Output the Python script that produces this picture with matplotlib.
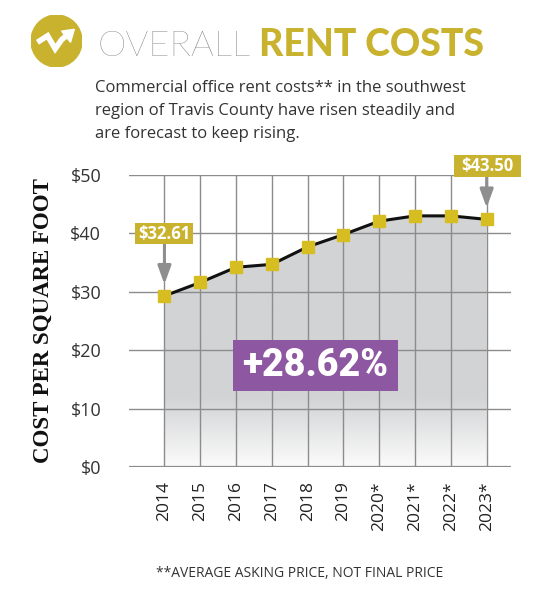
import numpy as np
import matplotlib.pyplot as plt
from matplotlib.patches import Circle, Rectangle, Polygon

years = ['2014', '2015', '2016', '2017', '2018', '2019', '2020*', '2021*', '2022*', '2023*']
cost = [29.3, 31.6, 34.2, 34.7, 37.7, 39.8, 42.1, 43.0, 43.0, 42.4]
yticks = [0, 10, 20, 30, 40, 50]
first_label = '$32.61'
last_label = '$43.50'
change_label = '+28.62%'

gold = '#c9b22e'
marker_gold = '#d6bd22'
purple = '#8d57a1'

W, H = 547, 600
fig = plt.figure(figsize=(W / 100, H / 100), dpi=100)

def fx(px):
    return px / W

def fy(py):
    return 1 - py / H

# main plot area, from pixel positions of the reference
ax = fig.add_axes([fx(129), fy(467), fx(511) - fx(129), fy(175) - fy(467)])
x = np.arange(len(years))
ax.set_xlim(-0.99, 9.68)
ax.set_ylim(0, 50)

# gradient fill under the line
grad = np.ones((256, 1))
yy = np.linspace(0, 50, 256)
grad[:, 0] = np.clip(yy / 12.0, 0, 1)
cmap = plt.matplotlib.colors.LinearSegmentedColormap.from_list('g', ['#fbfbfb', '#d2d3d5'])
img = ax.imshow(grad, extent=[x[0], x[-1], 0, 50], origin='lower', aspect='auto',
                cmap=cmap, vmin=0, vmax=1, zorder=1)
verts = [(x[0], 0)] + list(zip(x, cost)) + [(x[-1], 0)]
clip = Polygon(verts, closed=True, transform=ax.transData, facecolor='none', edgecolor='none')
ax.add_patch(clip)
img.set_clip_path(clip)

# grid
for v in yticks:
    ax.axhline(v, color='#8c8c8c', lw=1.0 if v else 1.6, zorder=2)
for xi in x:
    ax.plot([xi, xi], [0, 50], color='#8c8c8c', lw=1.0, zorder=2)

ax.plot(x, cost, color='#111111', lw=2.2, zorder=3)
ax.plot(x, cost, 's', color=marker_gold, ms=8.5, zorder=4)

for s in ax.spines.values():
    s.set_visible(False)
ax.set_yticks(yticks)
ax.set_yticklabels(['$%d' % v for v in yticks], fontsize=13, color='#333333', family='Open Sans')
ax.set_xticks(x)
ax.set_xticklabels(years, rotation=90, fontsize=12.5, color='#222222', family='Open Sans')
ax.tick_params(length=0)
ax.tick_params(axis='y', pad=20)
ax.tick_params(axis='x', pad=10)
ax.set_ylabel('COST PER SQUARE FOOT', fontsize=16.5, fontweight='bold', family='Liberation Serif',
              color='#111111', labelpad=12)

# callouts
def callout(xi, yi, label, bx0, by0, bx1, by1):
    ax.add_patch(Rectangle((fx(bx0), fy(by1)), fx(bx1) - fx(bx0), fy(by0) - fy(by1),
                           transform=fig.transFigure, facecolor=gold, edgecolor='none',
                           zorder=6, clip_on=False))
    fig.text(fx((bx0 + bx1) / 2), fy((by0 + by1) / 2), label, ha='center', va='center',
             fontsize=12, fontweight='bold', color='white', family='Open Sans', zorder=7)
    ax.annotate('', xy=(xi, yi + 2.0), xycoords='data',
                xytext=(xi, fy(by1)), textcoords=('data', 'figure fraction'),
                arrowprops=dict(arrowstyle='-|>,head_width=0.4,head_length=1.1',
                                color='#8e8e8e', lw=2.2, shrinkA=0, shrinkB=0), zorder=5,
                annotation_clip=False)

callout(x[0], cost[0], first_label, 135, 223, 193, 244)
callout(x[-1], cost[-1], last_label, 454, 155, 521, 177)

# purple change box
fig.patches.append(Rectangle((fx(233), fy(391)), fx(398) - fx(233), fy(340) - fy(391),
                             transform=fig.transFigure, facecolor=purple, edgecolor='none', zorder=6))
fig.text(fx(315), fy(366), change_label, ha='center', va='center', fontsize=27,
         fontweight='black', color='white', family='Roboto', zorder=7)

# title icon
iax = fig.add_axes([fx(31), fy(67), fx(51), fy(15) - fy(67)])
iax.set_xlim(-1, 1)
iax.set_ylim(-1, 1)
iax.axis('off')
iax.add_patch(Circle((0, 0), 1, color=gold))
iax.plot([-0.75, -0.35, -0.05, 0.2, 0.45], [-0.05, 0.2, -0.3, 0.05, 0.25], color='white', lw=4,
         solid_joinstyle='miter', solid_capstyle='butt')
iax.add_patch(Polygon([(0.7, 0.45), (0.2, 0.38), (0.55, -0.05)], closed=True, color='white'))

t1 = fig.text(fx(97), fy(56), 'OVERALL', fontsize=26, fontweight='light', family='Lato',
              color='#666666', va='baseline')
fig.canvas.draw()
bb = t1.get_window_extent()
fig.text((bb.x1 + 9) / W, fy(56), 'RENT COSTS', fontsize=27, fontweight='black', family='Lato',
         color=gold, va='baseline')

subtitle = ['Commercial office rent costs** in the southwest',
            'region of Travis County have risen steadily and',
            'are forecast to keep rising.']
for i, line in enumerate(subtitle):
    fig.text(fx(95), fy(92 + 23 * i), line, fontsize=12, family='Open Sans',
             color='#333333', va='baseline')

fig.text(fx(300), fy(577), '**AVERAGE ASKING PRICE, NOT FINAL PRICE', ha='center', va='baseline',
         fontsize=10, family='Open Sans', color='#333333')

plt.savefig('out.png', dpi=100)
plt.close()
